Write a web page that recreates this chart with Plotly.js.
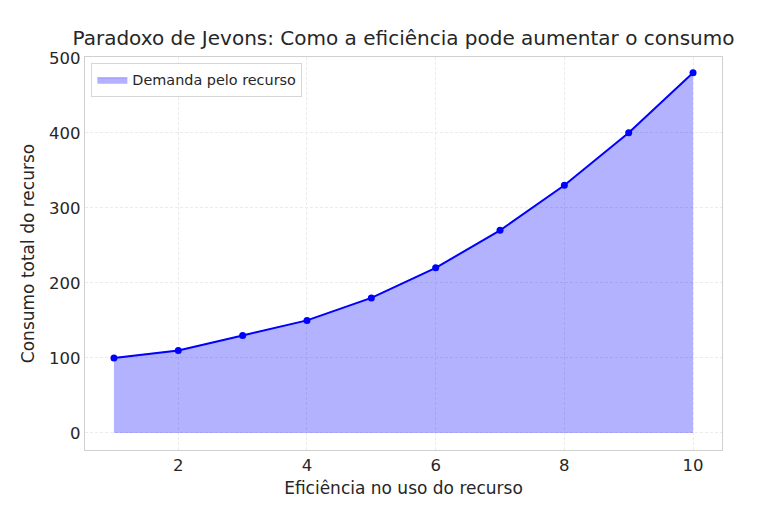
<!DOCTYPE html>
<html>
<head>
<meta charset="utf-8">
<script src="https://cdn.plot.ly/plotly-3.0.1.min.js"></script>
<style>
  body { margin: 0; background: #fff; }
  #chart { width: 758px; height: 508px; }
</style>
</head>
<body>
<div id="chart"></div>
<script>
// eficiência e consumo
var eficiencia = [1, 2, 3, 4, 5, 6, 7, 8, 9, 10];
var consumo = [100, 110, 130, 150, 180, 220, 270, 330, 400, 480];
var xTicks = [2, 4, 6, 8, 10];
var yTicks = [0, 100, 200, 300, 400, 500];

var fillTrace = {
    x: eficiencia,
    y: consumo,
    type: 'scatter',
    mode: 'lines',
    fill: 'tozeroy',
    fillcolor: 'rgba(0,0,255,0.3)',
    line: { color: 'rgba(0,0,255,0.3)', width: 1 },
    name: 'Demanda pelo recurso',
    showlegend: true
};

var lineTrace = {
    x: eficiencia,
    y: consumo,
    type: 'scatter',
    mode: 'lines+markers',
    line: { color: '#0000ff', width: 2 },
    marker: { color: '#0000ff', size: 7 },
    showlegend: false
};

var gridStyle = { showgrid: true, gridcolor: '#ebebeb', griddash: '3px,2px', gridwidth: 1 };

var layout = {
    width: 758,
    height: 508,
    paper_bgcolor: '#ffffff',
    plot_bgcolor: '#ffffff',
    font: { family: 'DejaVu Sans', color: '#262626' },
    title: {
        text: 'Paradoxo de Jevons: Como a eficiência pode aumentar o consumo',
        font: { size: 20, color: '#262626' },
        xref: 'paper', x: 0.5, xanchor: 'center', y: 0.925, yanchor: 'middle'
    },
    margin: { l: 85, r: 36, t: 57, b: 58 },
    xaxis: Object.assign({
        range: [0.55, 10.45],
        tickvals: xTicks,
        ticks: '',
        tickfont: { size: 16.5 },
        zeroline: false,
        showline: true, mirror: true, linecolor: '#d0d0d0', linewidth: 1.2,
        title: { text: 'Eficiência no uso do recurso', font: { size: 17 }, standoff: 8 }
    }, gridStyle),
    yaxis: Object.assign({
        range: [-22.7, 501],
        tickvals: yTicks,
        ticks: '',
        tickfont: { size: 16.5 },
        zeroline: false,
        showline: true, mirror: true, linecolor: '#d0d0d0', linewidth: 1.2,
        title: { text: 'Consumo total do recurso', font: { size: 17 }, standoff: 10 }
    }, gridStyle),
    legend: {
        x: 0.01, y: 0.985, xanchor: 'left', yanchor: 'top',
        bgcolor: 'rgba(255,255,255,0.8)',
        bordercolor: '#d6d6d6', borderwidth: 1,
        font: { size: 14.4 }
    }
};

Plotly.newPlot('chart', [fillTrace, lineTrace], layout, { displayModeBar: false });
</script>
</body>
</html>
